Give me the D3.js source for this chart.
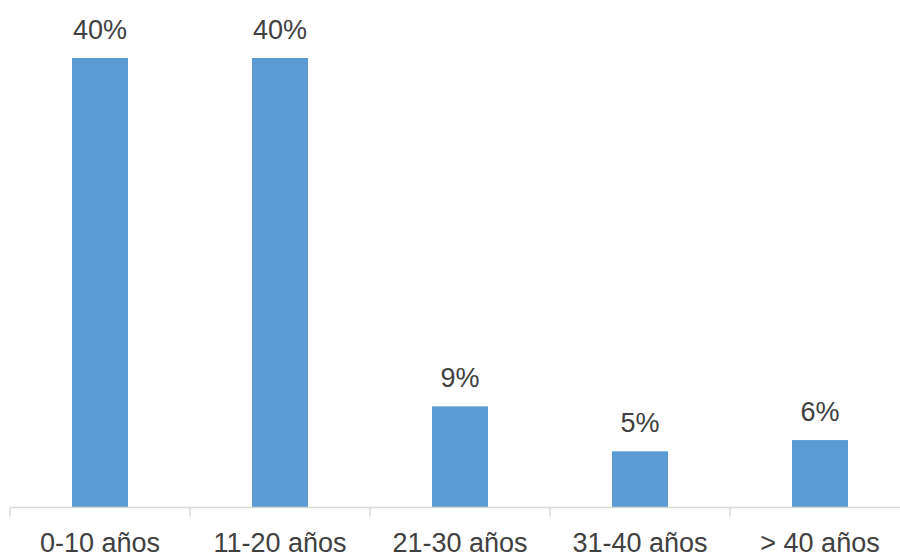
<!DOCTYPE html>
<html>
<head>
<meta charset="utf-8">
<script src="https://cdn.jsdelivr.net/npm/d3@7"></script>
<style>
  html, body { margin: 0; padding: 0; background: #fff; }
  svg { display: block; }
</style>
</head>
<body>
<svg id="chart" width="900" height="554"></svg>
<script>
// Antigüedad: share of items per age bracket
const categories = ["0-10 años", "11-20 años", "21-30 años", "31-40 años", "> 40 años"];
const values = [40, 40, 9, 5, 6];
const valueLabels = ["40%", "40%", "9%", "5%", "6%"];

const svg = d3.select("#chart");
const baseline = 507.5;
const font = "'Liberation Sans', Arial, sans-serif";

const x = d3.scaleBand()
  .domain(categories)
  .range([10, 910])
  .paddingInner(0.689)
  .paddingOuter(0.3445);

const y = d3.scaleLinear()
  .domain([0, 40])
  .range([baseline, 58]);

// bars
svg.append("g").selectAll("rect")
  .data(values)
  .join("rect")
  .attr("x", (d, i) => x(categories[i]))
  .attr("y", d => y(d))
  .attr("width", x.bandwidth())
  .attr("height", d => baseline - y(d))
  .attr("fill", "#5b9bd5");

// value labels
svg.append("g").selectAll("text")
  .data(values)
  .join("text")
  .attr("x", (d, i) => x(categories[i]) + x.bandwidth() / 2)
  .attr("y", d => y(d) - 19.3)
  .attr("text-anchor", "middle")
  .attr("font-family", font)
  .attr("font-size", 27)
  .attr("fill", "#404040")
  .text((d, i) => valueLabels[i]);

// category axis
const step = x.step();
const axisG = svg.append("g");
axisG.append("line")
  .attr("x1", 10).attr("x2", 910)
  .attr("y1", baseline).attr("y2", baseline)
  .attr("stroke", "#d9d9d9").attr("stroke-width", 1.5);

const edges = d3.range(categories.length + 1).map(i => 10 + i * step);
axisG.selectAll("line.tick")
  .data(edges)
  .join("line")
  .attr("class", "tick")
  .attr("x1", d => d).attr("x2", d => d)
  .attr("y1", baseline).attr("y2", baseline + 9)
  .attr("stroke", "#d9d9d9").attr("stroke-width", 1.5);

axisG.selectAll("text")
  .data(categories)
  .join("text")
  .attr("x", d => x(d) + x.bandwidth() / 2)
  .attr("y", 551.5)
  .attr("text-anchor", "middle")
  .attr("font-family", font)
  .attr("font-size", 27)
  .attr("fill", "#404040")
  .text(d => d);
</script>
</body>
</html>
